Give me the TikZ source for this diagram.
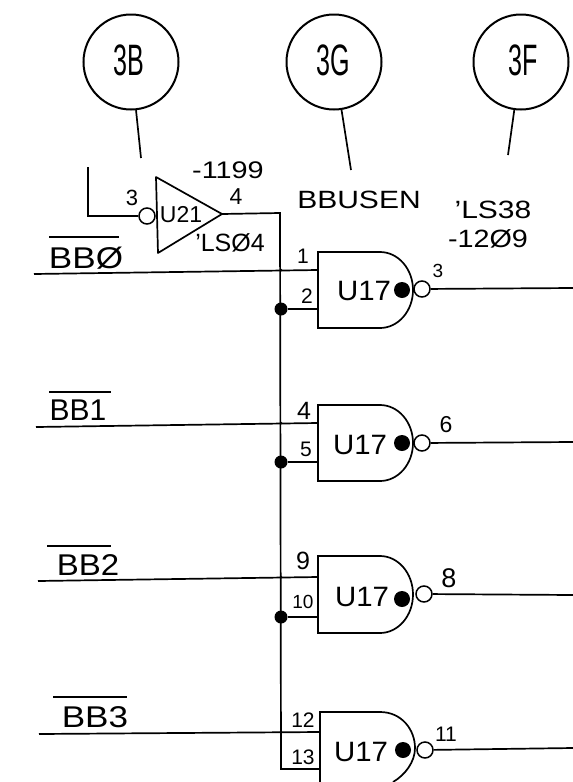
\documentclass[tikz,border=0pt]{standalone}
\usepackage{fontspec}
\setmainfont{Liberation Sans}
\newcommand{\fs}[1]{\fontsize{#1}{#1}\selectfont}
\tikzset{
	wire/.style={line width=1.7pt},
	bubble/.style={circle,draw,line width=1.5pt,minimum size=16pt,inner sep=0pt},
	blob/.style={circle,fill=black,minimum size=16pt,inner sep=0pt},
	joint/.style={circle,fill=black,minimum size=13pt,inner sep=0pt},
	tiny joint/.style={circle,fill=black,minimum size=3pt,inner sep=0pt},
	sheet/.style={circle,draw,line width=2pt,minimum size=95pt,inner sep=0pt},
	sheet label/.style={font=\fs{44},inner sep=0pt,xscale=.57},
	pin/.style={font=\fs{21},inner sep=0pt},
	signal/.style={font=\fs{30},inner sep=0pt},
	gate name/.style={font=\fs{28},inner sep=0pt,xscale=1.05},
	part/.style={font=\fs{25},inner sep=0pt},
}
\begin{document}
\begin{tikzpicture}[x=1pt,y=-1pt]
	\useasboundingbox (0,0) rectangle (573,782);
	\begin{scope}
		% sheet references
		\draw (131,62) node[sheet] (s3b) {};
		\draw (334,62) node[sheet] (s3g) {};
		\draw (521,62) node[sheet] (s3f) {};
		\draw (129,60) node[sheet label] (t3b) {3B};
		\draw (333,60) node[sheet label] (t3g) {3G};
		\draw (523,60) node[sheet label] (t3f) {3F};
		\coordinate (s3bend) at (141,158);
		\coordinate (s3gend) at (351,170);
		\coordinate (s3fend) at (508,155);
		\draw[wire] (s3b) -- (s3bend);
		\draw[wire] (s3g) -- (s3gend);
		\draw[wire] (s3f) -- (s3fend);

		% inverter
		\coordinate (intop) at (88,167);
		\coordinate (incorner) at (88,216);
		\coordinate (invtip) at (222,214);
		\coordinate (buscorner) at (280,213);
		\coordinate (busend) at (281,769);
		\coordinate (busfoot) at (320,769);
		\draw (147,216) node[bubble] (invbub) {};
		\draw[wire,line join=round] (156,177) -- (invtip) -- (158,253) -- cycle;
		\draw[wire] (intop) -- (incorner) -- (invbub);
		\draw[wire] (invtip) -- (buscorner) -- (busend) -- (busfoot);
		\draw (132,198) node[pin,font=\fs{22}] (pinin) {3};
		\draw (236,197) node[pin,font=\fs{23}] (pinout) {4};
		\draw (181,215) node[pin,font=\fs{23}] (u21) {U21};
		\draw (228,170) node[part,font=\fs{24},xscale=1.2] (num1199) {-1199};
		\draw (230,243) node[part] (ls04) {'LSØ4};
		\draw (359,200) node[part,xscale=1.2] (bbusen) {BBUSEN};
		\draw (493,210) node[part,xscale=1.2] (ls38) {'LS38};
		\draw (488,239) node[part,xscale=1.15] (num1209) {-12Ø9};

		% gate 1
		\draw[wire] (380,252) -- (318,252) -- (318,328) -- (380,328) arc[start angle=-90,end angle=90,x radius=33pt,y radius=38pt];
		\draw (422,289) node[bubble] (bub1) {};
		\draw (402,290) node[blob] (dot1) {};
		\draw (364,291) node[gate name] (gate1) {U17};
		\coordinate (in1) at (34,274);
		\coordinate (a1) at (318,270);
		\coordinate (b1) at (318,309);
		\coordinate (out1) at (573,288);
		\draw (281,270) node[tiny joint] (ja1) {};
		\draw (281,309) node[joint] (jb1) {};
		\draw[wire] (in1) -- (a1);
		\draw[wire] (jb1) -- (b1);
		\draw[wire] (bub1) -- (out1);
		\draw (303,256) node[pin] (p1) {1};
		\draw (307,296) node[pin] (p2) {2};
		\draw (438,271) node[pin,font=\fs{19}] (p3) {3};
		\draw (86,258) node[signal,xscale=1.17] (bb0) {BBØ};
		\coordinate (bar0l) at (49,237);
		\coordinate (bar0r) at (119,237);
		\draw[wire] (bar0l) -- (bar0r);

		% gate 2
		\draw[wire] (380,405) -- (318,405) -- (318,481) -- (380,481) arc[start angle=-90,end angle=90,x radius=33pt,y radius=38pt];
		\draw (422,443) node[bubble] (bub2) {};
		\draw (402,443) node[blob] (dot2) {};
		\draw (360,445) node[gate name] (gate2) {U17};
		\coordinate (in2) at (36,427);
		\coordinate (a2) at (318,423);
		\coordinate (b2) at (318,462);
		\coordinate (out2) at (573,442);
		\draw (281,423) node[tiny joint] (ja2) {};
		\draw (281,462) node[joint] (jb2) {};
		\draw[wire] (in2) -- (a2);
		\draw[wire] (jb2) -- (b2);
		\draw[wire] (bub2) -- (out2);
		\draw (304,411) node[pin,font=\fs{25}] (p4) {4};
		\draw (306,449) node[pin] (p5) {5};
		\draw (446,425) node[pin,font=\fs{23}] (p6) {6};
		\draw (78,410) node[signal] (bb1) {BB1};
		\coordinate (bar1l) at (49,392);
		\coordinate (bar1r) at (111,392);
		\draw[wire] (bar1l) -- (bar1r);

		% gate 3
		\draw[wire] (380,556) -- (318,556) -- (318,633) -- (380,633) arc[start angle=-90,end angle=90,x radius=33pt,y radius=38.5pt];
		\draw (424,594) node[bubble] (bub3) {};
		\draw (402,599) node[blob] (dot3) {};
		\draw (362,597) node[gate name] (gate3) {U17};
		\coordinate (in3) at (38,581);
		\coordinate (a3) at (318,577);
		\coordinate (b3) at (318,617);
		\coordinate (out3) at (573,595);
		\draw (281,577) node[tiny joint] (ja3) {};
		\draw (281,617) node[joint] (jb3) {};
		\draw[wire] (in3) -- (a3);
		\draw[wire] (jb3) -- (b3);
		\draw[wire] (bub3) -- (out3);
		\draw (303,561) node[pin,font=\fs{25}] (p9) {9};
		\draw (303,602) node[pin,font=\fs{19}] (p10) {10};
		\draw (449,578) node[pin,font=\fs{27}] (p8) {8};
		\draw (88,565) node[signal,xscale=1.1] (bb2) {BB2};
		\coordinate (bar2l) at (47,546);
		\coordinate (bar2r) at (111,546);
		\draw[wire] (bar2l) -- (bar2r);

		% gate 4
		\draw[wire] (380,712) -- (320,712) -- (320,782);
		\draw[wire] (380,712) .. controls (402,712) and (415,730) .. (415,748) .. controls (415,762) and (405,775) .. (393,782);
		\draw (425,750) node[bubble] (bub4) {};
		\draw (403,750) node[blob] (dot4) {};
		\draw (361,752) node[gate name] (gate4) {U17};
		\coordinate (in4) at (39,734);
		\coordinate (a4) at (320,732);
		\coordinate (out4) at (573,748);
		\draw (281,732) node[tiny joint] (ja4) {};
		\draw[wire] (in4) -- (a4);
		\draw[wire] (bub4) -- (out4);
		\draw (303,720) node[pin] (p12) {12};
		\draw (303,757) node[pin] (p13) {13};
		\draw (446,734) node[pin] (p11) {11};
		\draw (95,717) node[signal,xscale=1.17] (bb3) {BB3};
		\coordinate (bar3l) at (53,697);
		\coordinate (bar3r) at (127,697);
		\draw[wire] (bar3l) -- (bar3r);
	\end{scope}
\end{tikzpicture}
\end{document}
